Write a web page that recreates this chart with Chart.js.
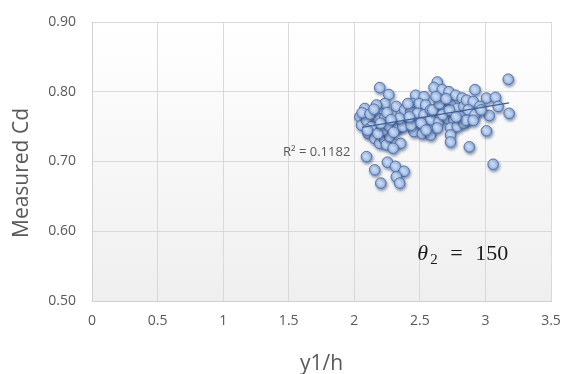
<!DOCTYPE html>
<html>
<head>
<meta charset="utf-8">
<script src="https://cdn.jsdelivr.net/npm/chart.js@4/dist/chart.umd.min.js"></script>
<style>
  html, body { margin: 0; padding: 0; background: #ffffff; }
  #wrap { width: 563px; height: 374px; position: relative; }
</style>
</head>
<body>
<div id="wrap"><canvas id="c" width="563" height="374"></canvas></div>
<script>
// Flow depth ratio y1/h
const depthRatio = [
  2.194, 2.263, 2.232, 2.169, 2.080, 2.042, 2.055, 2.093, 2.131, 2.106,
  2.156, 2.194, 2.232, 2.245, 2.270, 2.220, 2.182, 2.232, 2.258, 2.321,
  2.359, 2.384, 2.372, 2.334, 2.354, 2.093, 2.156, 2.253, 2.314, 2.380,
  2.321, 2.202, 2.346, 2.296, 2.633, 2.608, 2.671, 2.722, 2.772, 2.823,
  2.468, 2.532, 2.443, 2.494, 2.544, 2.430, 2.481, 2.532, 2.582, 2.633,
  2.684, 2.734, 2.785, 2.836, 2.430, 2.481, 2.532, 2.582, 2.646, 2.709,
  2.760, 2.811, 2.455, 2.519, 2.582, 2.633, 2.734, 2.785, 2.836, 2.734,
  2.734, 3.174, 2.920, 3.008, 3.077, 2.856, 2.907, 2.958, 2.869, 2.920,
  2.852, 2.907, 3.097, 3.029, 3.181, 3.008, 2.877, 3.059, 2.370, 2.433,
  2.344, 2.408, 2.420, 2.509, 2.547, 2.598, 2.649, 2.674, 2.725, 2.776,
  2.623, 2.700, 2.966, 2.060, 2.120, 2.150, 2.100, 2.180, 2.200, 2.250,
  2.280, 2.300
];

// Measured discharge coefficient Cd
const measuredCd = [
  0.806, 0.796, 0.783, 0.781, 0.776, 0.764, 0.752, 0.759, 0.750, 0.740,
  0.733, 0.726, 0.731, 0.724, 0.736, 0.745, 0.762, 0.762, 0.752, 0.779,
  0.767, 0.774, 0.755, 0.748, 0.726, 0.707, 0.688, 0.699, 0.693, 0.686,
  0.678, 0.669, 0.669, 0.719, 0.814, 0.806, 0.803, 0.800, 0.795, 0.791,
  0.795, 0.793, 0.783, 0.783, 0.781, 0.771, 0.769, 0.767, 0.774, 0.776,
  0.779, 0.781, 0.776, 0.779, 0.755, 0.752, 0.755, 0.760, 0.757, 0.762,
  0.760, 0.764, 0.743, 0.740, 0.738, 0.748, 0.748, 0.750, 0.755, 0.738,
  0.728, 0.818, 0.803, 0.791, 0.792, 0.788, 0.786, 0.779, 0.774, 0.767,
  0.759, 0.759, 0.779, 0.766, 0.769, 0.744, 0.721, 0.696, 0.750, 0.752,
  0.762, 0.783, 0.764, 0.755, 0.745, 0.774, 0.783, 0.767, 0.774, 0.764,
  0.793, 0.790, 0.774, 0.770, 0.768, 0.775, 0.745, 0.740, 0.755, 0.770,
  0.760, 0.742
];

// Linear trendline end points (y1/h, Cd)
const trendX = [2.06, 3.18];
const trendY = [0.749, 0.784];
const rSquaredText = 'R² = 0.1182';

// Axis tick labels and titles
const xTickLabels = ['0', '0.5', '1', '1.5', '2', '2.5', '3', '3.5'];
const yTickLabels = ['0.50', '0.60', '0.70', '0.80', '0.90'];
const xTitle = 'y1/h';
const yTitle = 'Measured Cd';

const points = depthRatio.map((x, i) => ({ x: x, y: measuredCd[i] }));
const trend = trendX.map((x, i) => ({ x: x, y: trendY[i] }));

const GREY = '#595959';

// Soft vertical shading of the plot area
const plotBackground = {
  id: 'plotBackground',
  beforeDraw(chart) {
    const { ctx, chartArea: a } = chart;
    const g = ctx.createLinearGradient(0, a.top, 0, a.bottom);
    g.addColorStop(0, '#ffffff');
    g.addColorStop(1, '#efefef');
    ctx.save();
    ctx.fillStyle = g;
    ctx.fillRect(a.left, a.top, a.right - a.left, a.bottom - a.top);
    ctx.restore();
  }
};

// Drop shadow under the markers
const markerShadow = {
  id: 'markerShadow',
  beforeDatasetDraw(chart, args) {
    if (args.index !== 0) return;
    const ctx = chart.ctx;
    ctx.save();
    ctx.shadowColor = 'rgba(20, 40, 80, 0.45)';
    ctx.shadowBlur = 3;
    ctx.shadowOffsetX = 1;
    ctx.shadowOffsetY = 2;
  },
  afterDatasetDraw(chart, args) {
    if (args.index !== 0) return;
    chart.ctx.restore();
  }
};

// Axis titles, R² label and the angle annotation
const annotations = {
  id: 'annotations',
  afterDraw(chart) {
    const { ctx, chartArea: a, scales: { x, y } } = chart;
    ctx.save();

    // axis titles
    ctx.fillStyle = GREY;
    ctx.font = '21px "Open Sans", sans-serif';
    ctx.textAlign = 'center';
    ctx.textBaseline = 'middle';
    ctx.fillText(xTitle, (a.left + a.right) / 2, 364);
    ctx.save();
    ctx.translate(22, 173);
    ctx.rotate(-Math.PI / 2);
    ctx.fillText(yTitle, 0, 0);
    ctx.restore();

    // trendline fit
    ctx.font = '13px "Open Sans", sans-serif';
    ctx.textAlign = 'right';
    ctx.fillText(rSquaredText, x.getPixelForValue(1.97), y.getPixelForValue(0.7135));

    // angle of the weir
    const px = x.getPixelForValue(2.48);
    const py = y.getPixelForValue(0.559);
    ctx.fillStyle = '#1a1a1a';
    ctx.textAlign = 'left';
    ctx.textBaseline = 'alphabetic';
    ctx.font = 'italic 22px "Liberation Serif", "DejaVu Serif", serif';
    ctx.fillText('θ', px, py);
    ctx.font = '15px "Liberation Serif", "DejaVu Serif", serif';
    ctx.fillText('2', px + 13, py + 4);
    ctx.font = '22px "Liberation Serif", "DejaVu Serif", serif';
    ctx.fillText('=', px + 33, py);
    ctx.fillText('150', px + 58, py);
    ctx.restore();
  }
};

function markerFill(c) {
  const flat = '#a9c5ee';
  if (c.type !== 'data' || !c.parsed) return flat;
  const chart = c.chart;
  const xs = chart.scales.x, ys = chart.scales.y;
  if (!xs || !ys) return flat;
  const px = xs.getPixelForValue(c.parsed.x);
  const py = ys.getPixelForValue(c.parsed.y);
  if (!isFinite(px) || !isFinite(py)) return flat;
  const g = chart.ctx.createRadialGradient(px - 1.5, py - 1.5, 0.5, px, py, 6);
  g.addColorStop(0, '#dbe8fb');
  g.addColorStop(0.6, '#aec8ef');
  g.addColorStop(1, '#8aabdd');
  return g;
}

new Chart(document.getElementById('c'), {
  type: 'scatter',
  data: {
    datasets: [
      {
        label: 'Cd',
        data: points,
        order: 1,
        pointRadius: 5.3,
        pointHoverRadius: 5.3,
        pointBackgroundColor: markerFill,
        pointBorderColor: '#5276ae',
        pointBorderWidth: 1
      },
      {
        label: 'Linear trend',
        type: 'line',
        data: trend,
        order: 0,
        showLine: true,
        pointRadius: 0,
        borderColor: '#3f5f94',
        borderWidth: 1.4,
        fill: false
      }
    ]
  },
  options: {
    responsive: false,
    animation: false,
    events: [],
    layout: { padding: { top: 22, right: 12, left: 0, bottom: 0 } },
    plugins: {
      legend: { display: false },
      tooltip: { enabled: false }
    },
    scales: {
      x: {
        type: 'linear',
        min: 0,
        max: 3.5,
        afterFit(s) {
          s.height = 73;
          s.paddingLeft = 0;
          s.paddingRight = 0;
        },
        afterBuildTicks(s) { s.ticks = xTickLabels.map(t => ({ value: parseFloat(t) })); },
        ticks: {
          padding: 12,
          color: GREY,
          font: { family: '"Open Sans", sans-serif', size: 14 },
          maxRotation: 0,
          callback: (v, i) => xTickLabels[i]
        },
        grid: { color: '#d9d9d9', lineWidth: 1, drawTicks: false },
        border: { color: '#d0d0d0' }
      },
      y: {
        type: 'linear',
        min: 0.5,
        max: 0.9,
        afterFit(s) {
          s.width = 92;
          s.paddingTop = 0;
          s.paddingBottom = 0;
        },
        afterBuildTicks(s) { s.ticks = yTickLabels.map(t => ({ value: parseFloat(t) })); },
        ticks: {
          padding: 16,
          color: GREY,
          font: { family: '"Open Sans", sans-serif', size: 14 },
          callback: (v, i) => yTickLabels[i]
        },
        grid: { color: '#d9d9d9', lineWidth: 1, drawTicks: false },
        border: { color: '#d0d0d0' }
      }
    }
  },
  plugins: [plotBackground, markerShadow, annotations]
});
</script>
</body>
</html>
